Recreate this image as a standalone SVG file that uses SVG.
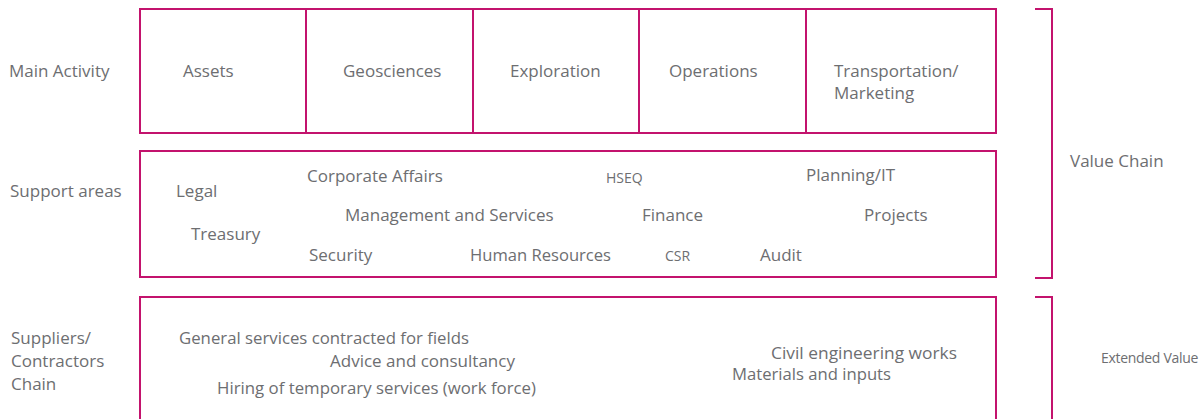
<svg xmlns="http://www.w3.org/2000/svg" width="1203" height="419" viewBox="0 0 1203 419">
<style>
.box{fill:none;stroke:#c3136d;stroke-width:2}
.br{fill:none;stroke:#c3136d;stroke-width:2}
text{font-family:"Open Sans","Liberation Sans",sans-serif;font-size:17px;fill:#6d6e71}
.s{font-size:14px}
.n{font-size:14px;letter-spacing:-0.3px}
</style>
<rect width="1203" height="419" fill="#ffffff"/>
<g id="row-labels">
<text x="9" y="77">Main Activity</text>
<text x="10" y="197">Support areas</text>
<text x="11" y="344">Suppliers/</text>
<text x="11" y="367">Contractors</text>
<text x="11" y="390">Chain</text>
</g>
<g id="main-activity">
<rect class="box" x="140" y="9" width="856" height="124"/>
<line class="box" x1="306" y1="9" x2="306" y2="133"/>
<line class="box" x1="473" y1="9" x2="473" y2="133"/>
<line class="box" x1="639" y1="9" x2="639" y2="133"/>
<line class="box" x1="806" y1="9" x2="806" y2="133"/>
<text x="183" y="77">Assets</text>
<text x="343" y="77">Geosciences</text>
<text x="510" y="77">Exploration</text>
<text x="669" y="77">Operations</text>
<text x="834" y="77">Transportation/</text>
<text x="834" y="99">Marketing</text>
</g>
<g id="support-areas">
<rect class="box" x="140" y="151" width="856" height="126"/>
<text x="176" y="197">Legal</text>
<text x="307" y="182">Corporate Affairs</text>
<text x="345" y="221">Management and Services</text>
<text x="191" y="240">Treasury</text>
<text x="309" y="261">Security</text>
<text class="s" x="606" y="183">HSEQ</text>
<text x="642" y="221">Finance</text>
<text x="470" y="261" textLength="141" lengthAdjust="spacingAndGlyphs">Human Resources</text>
<text class="s" x="665" y="261">CSR</text>
<text x="760" y="261">Audit</text>
<text x="806" y="181">Planning/IT</text>
<text x="864" y="221">Projects</text>
</g>
<g id="suppliers-chain">
<path class="box" d="M140,430 V297 H996 V430"/>
<text x="179" y="344" textLength="290" lengthAdjust="spacingAndGlyphs">General services contracted for fields</text>
<text x="330" y="367">Advice and consultancy</text>
<text x="217" y="394" textLength="319" lengthAdjust="spacingAndGlyphs">Hiring of temporary services (work force)</text>
<text x="771" y="359" textLength="186" lengthAdjust="spacingAndGlyphs">Civil engineering works</text>
<text x="732" y="380" textLength="159" lengthAdjust="spacingAndGlyphs">Materials and inputs</text>
</g>
<g id="connectors">
<path class="br" d="M1035,9 H1052 V278 H1035"/>
<path class="br" d="M1035,297 H1052 V430"/>
</g>
<g id="bracket-labels">
<text x="1070" y="167">Value Chain</text>
<text class="n" x="1101" y="363">Extended Value</text>
</g>
</svg>
